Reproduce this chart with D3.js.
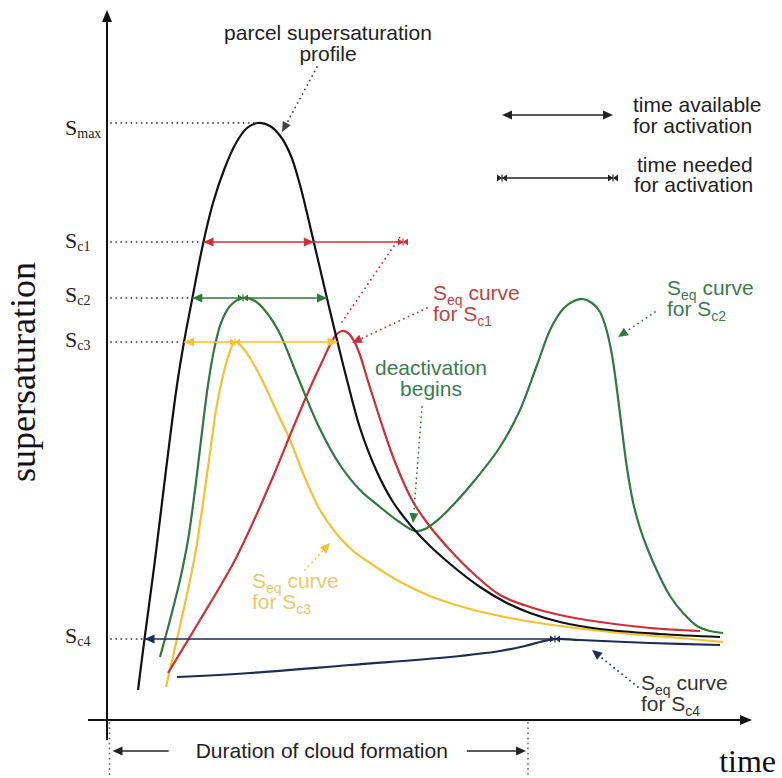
<!DOCTYPE html>
<html><head><meta charset="utf-8">
<script src="https://cdn.jsdelivr.net/npm/d3@7"></script>
<style>
body{margin:0;background:#fff;}
svg{display:block;}
text{font-family:"Liberation Sans",Arial,sans-serif;}
.serif{font-family:"Liberation Serif","Times New Roman",serif;}
</style></head><body>
<svg id="chart" width="782" height="778"></svg>
<script>
// ---- data: [time, supersaturation] in arbitrary schematic units ----
const parcelProfile = [[31,30],[37.5,81],[48,160],[59,250],[70,335],[77,378],[85,420],[96,476],[106,517],[117,550],[129,577],[140,592],[151,597],[163,594],[174,583],[184,564],[193,535],[200,507],[207,477],[215,443],[223,409],[231,376],[240,340],[253,292],[270,248],[286,218],[305,193],[323,174],[348,152],[373,133],[398,118],[423,107],[453,98],[493,91],[553,86],[613,83]];
const seqSc1 = [[61,47],[78,75],[93,100],[111,130],[128,160],[148,202],[168,248],[186,292],[203,332],[215,358],[224,377],[230,386],[235,389],[241,387],[247,379],[253,365],[260,342],[267,320],[275,295],[288,258],[305,220],[321,196],[343,170],[368,145],[393,125],[423,113],[453,105],[493,98],[543,92],[593,89]];
const seqSc2 = [[53,63],[63,100],[73,140],[81,180],[88,230],[95,288],[101,335],[107,370],[114,397],[123,414],[136,422],[148,419],[160,407],[173,386],[190,345],[211,295],[233,255],[253,230],[273,213],[291,199],[308,189],[318,191],[333,202],[348,217],[368,240],[393,273],[413,310],[430,355],[444,392],[457,412],[467,419],[476,421],[485,417],[493,408],[499,392],[505,365],[510,330],[515,290],[520,252],[526,218],[533,192],[541,170],[551,147],[563,124],[577,106],[590,94],[603,89],[616,87]];
const seqSc3 = [[59,33],[67,68],[75,103],[82,135],[88,165],[95,210],[102,260],[109,310],[115,340],[121,363],[128,378],[135,373],[143,362],[151,348],[159,332],[169,310],[183,280],[198,242],[213,210],[229,187],[245,170],[263,157],[288,141],[323,124],[363,111],[403,102],[453,94],[513,87],[573,82],[616,78]];
const seqSc4 = [[70,43],[143,47],[243,55],[343,63],[393,69],[418,74],[433,78],[448,81],[473,80],[543,77],[613,75]];

const levelNames  = ["max","c1","c2","c3","c4"];
const levelValues = [597, 478, 422, 378, 81];
const levelDotEnd = [151, 96.5, 85.3, 77, 37.5];
// time available / needed for Sc1..Sc4
const availStart = [96.5, 85.3, 77, 37.5];
const availEnd   = [206.8, 220, 230.5, null];
const neededEnd  = [296, 136, 128, 448];
const cloudDuration = [2.5, 421];
const xAxisExtent = [-19, 645];
const yAxisExtent = [-20, 710];

const C = {black:"#111", red:"#cc2f36", green:"#2e7a3d", yellow:"#f3c22e", navy:"#1f2b52",
           redText:"#b8463f", greenText:"#3d7a50", yellowText:"#ebc867", navyText:"#333"};
const levelColors = [C.red, C.green, C.yellow, C.navy];

const svg = d3.select("#chart");
const x = d3.scaleLinear().domain([0,620]).range([107,727]);
const y = d3.scaleLinear().domain([0,600]).range([720,120]);

function head(g, px, py, ang, color, len=10, half=4){
  const c=Math.cos(ang), s=Math.sin(ang);
  const bx=px-len*c, by=py-len*s;
  g.append("path").attr("d",`M${px},${py}L${bx - half*s},${by + half*c}L${bx + half*s},${by - half*c}Z`)
    .attr("fill",color);
}
function bowtie(g, px, py, color){
  g.append("path").attr("d",`M${px-5},${py-3.5}L${px},${py}L${px-5},${py+3.5}Z M${px+5},${py-3.5}L${px},${py}L${px+5},${py+3.5}Z`)
    .attr("fill",color);
  g.append("line").attr("x1",px).attr("x2",px).attr("y1",py-3.5).attr("y2",py+3.5).attr("stroke",color).attr("stroke-width",1.2);
}
function dotted(g,x1,y1,x2,y2,color){
  g.append("line").attr("x1",x1).attr("y1",y1).attr("x2",x2).attr("y2",y2)
    .attr("stroke",color).attr("stroke-width",1.8).attr("stroke-dasharray","0.1,5").attr("stroke-linecap","round");
}
function dottedArrow(g,p1,p2,color){
  const X1=x(p1[0]),Y1=y(p1[1]),X2=x(p2[0]),Y2=y(p2[1]);
  const ang=Math.atan2(Y2-Y1,X2-X1);
  dotted(g,X1,Y1,X2-9*Math.cos(ang),Y2-9*Math.sin(ang),color);
  head(g,X2,Y2,ang,color,10,4.5);
}

const g = svg.append("g");

// axes
g.append("line").attr("x1",x(0)).attr("x2",x(0)).attr("y1",y(yAxisExtent[0])).attr("y2",y(yAxisExtent[1])+8)
  .attr("stroke","#111").attr("stroke-width",2);
head(g,x(0),y(yAxisExtent[1]),-Math.PI/2,"#111",12,5);
g.append("line").attr("x1",x(xAxisExtent[0])).attr("x2",x(xAxisExtent[1])-8).attr("y1",y(0)).attr("y2",y(0))
  .attr("stroke","#111").attr("stroke-width",2);
head(g,x(xAxisExtent[1]),y(0),0,"#111",12,5);

// level dotted guides + labels
levelValues.forEach((v,i)=>{
  dotted(g, x(0)+4, y(v), x(levelDotEnd[i])-2, y(v), "#555");
});
const labBase = [135,248,302,347,643];
levelNames.forEach((n,i)=>{
  const t=g.append("text").attr("class","serif").attr("x",65).attr("y",labBase[i]).attr("fill","#222");
  t.append("tspan").attr("font-size",22).text("S");
  t.append("tspan").attr("font-size",14).attr("dy",3).text(n);
});

// curves
const line = d3.line().x(d=>x(d[0])).y(d=>y(d[1])).curve(d3.curveCatmullRom.alpha(0.5));
[[seqSc3,C.yellow],[seqSc1,C.red],[seqSc2,C.green],[seqSc4,C.navy],[parcelProfile,C.black]].forEach(([d,c])=>{
  g.append("path").attr("d",line(d)).attr("fill","none").attr("stroke",c).attr("stroke-width",2.2);
});

// time available / needed arrows
levelValues.slice(1).forEach((v,i)=>{
  const col=levelColors[i], Y=y(v);
  const xs=x(availStart[i]);
  const xe=Math.max(availEnd[i]===null?0:x(availEnd[i]), x(neededEnd[i]));
  g.append("line").attr("x1",xs).attr("x2",xe).attr("y1",Y).attr("y2",Y).attr("stroke",col).attr("stroke-width",1.6);
  head(g,xs,Y,Math.PI,col,10,4.5);
  if(availEnd[i]!==null) head(g,x(availEnd[i]),Y,0,col,10,4.5);
  bowtie(g,x(neededEnd[i]),Y,col);
});
// red dotted link from Seq1 peak to end of time needed
dotted(g,x(235),y(398),x(neededEnd[0])-3,y(levelValues[1])-5,C.red);

// legend
head(g,502,115,Math.PI,"#222",10,4.5); head(g,613,115,0,"#222",10,4.5);
g.append("line").attr("x1",504).attr("x2",611).attr("y1",115).attr("y2",115).attr("stroke","#222").attr("stroke-width",1.6);
g.append("line").attr("x1",502).attr("x2",613).attr("y1",178).attr("y2",178).attr("stroke","#222").attr("stroke-width",1.6);
bowtie(g,502,178,"#222"); bowtie(g,613,178,"#222");
function txt(xp,yp,s,opts={}){
  const t=g.append("text").attr("x",xp).attr("y",yp).attr("font-size",opts.size||21).attr("fill",opts.fill||"#222");
  if(opts.anchor) t.attr("text-anchor",opts.anchor);
  t.text(s); return t;
}
txt(633,112,"time available"); txt(633,133,"for activation");
txt(637,172,"time needed"); txt(634,192,"for activation");

// annotations
txt(328,40,"parcel supersaturation",{anchor:"middle"}); txt(328,61,"profile",{anchor:"middle"});
dottedArrow(g,[210,653],[175,588],"#444");

function seqLabel(xp,yp,sub,col){
  const t=g.append("text").attr("x",xp).attr("y",yp).attr("fill",col).attr("font-size",21);
  t.append("tspan").text("S");
  t.append("tspan").attr("font-size",14).attr("dy",5).text("eq");
  t.append("tspan").attr("dy",-5).text(" curve");
  const t2=g.append("text").attr("x",xp).attr("y",yp+21).attr("fill",col).attr("font-size",21);
  t2.append("tspan").text("for S");
  t2.append("tspan").attr("font-size",14).attr("dy",5).text(sub);
}
seqLabel(433,300,"c1",C.redText);
dottedArrow(g,[320,412],[245,377],C.red);
seqLabel(667,295,"c2",C.greenText);
dottedArrow(g,[548,408],[511,383],C.green);
seqLabel(252,588,"c3",C.yellowText);
dottedArrow(g,[198,150],[223,177],C.yellow);
seqLabel(641,690,"c4",C.navyText);
dottedArrow(g,[531,33],[485,70],C.navy);

txt(431,375,"deactivation",{anchor:"middle",fill:C.greenText});
txt(431,396,"begins",{anchor:"middle",fill:C.greenText});
dottedArrow(g,[315,313],[306,197],C.green);

// axis titles
g.append("text").attr("class","serif").attr("transform","translate(35,372) rotate(-90)")
  .attr("text-anchor","middle").attr("font-size",36).attr("fill","#111").text("supersaturation");
g.append("text").attr("class","serif").attr("x",776).attr("y",772).attr("text-anchor","end")
  .attr("font-size",32).attr("fill","#111").text("time");

// duration of cloud formation
const d0=x(cloudDuration[0]), d1=x(cloudDuration[1]), mid=(d0+d1)/2, yd=751;
dotted(g,d0,y(0)+3,d0,776,"#666"); dotted(g,d1,y(0)+3,d1,776,"#666");
g.append("line").attr("x1",d0+10).attr("x2",mid-150).attr("y1",yd).attr("y2",yd).attr("stroke","#222").attr("stroke-width",1.6);
head(g,d0+3,yd,Math.PI,"#222",10,4.5);
g.append("line").attr("x1",mid+148).attr("x2",d1-10).attr("y1",yd).attr("y2",yd).attr("stroke","#222").attr("stroke-width",1.6);
head(g,d1-2,yd,0,"#222",10,4.5);
txt(mid+3,758,"Duration of cloud formation",{anchor:"middle"});
</script>
</body></html>
